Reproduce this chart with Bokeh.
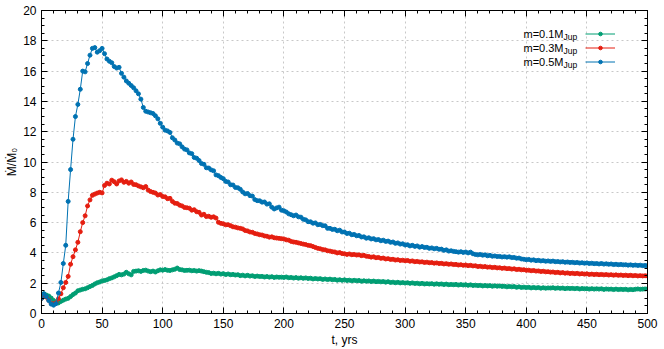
from bokeh.plotting import figure
from bokeh.models import (SingleIntervalTicker, LinearAxis, Label, Legend,
                          LegendItem, Range1d)
from bokeh.embed import file_html
from bokeh.resources import INLINE

# time axis (yrs), sampled every 2 years
t_years = list(range(0, 501, 2))

# Mdot / Mdot_0 for m = 0.1 M_Jup
mdot_01 = [
    1.00, 1.30, 1.22, 1.15, 1.02, 0.86, 0.72, 0.70, 0.80, 0.88,
    0.95, 1.00, 1.12, 1.25, 1.35, 1.50, 1.55, 1.60, 1.63, 1.70,
    1.78, 1.85, 1.95, 2.03, 2.08, 2.15, 2.18, 2.22, 2.30, 2.35,
    2.42, 2.50, 2.58, 2.55, 2.60, 2.72, 2.62, 2.55, 2.78, 2.80,
    2.82, 2.78, 2.84, 2.86, 2.80, 2.76, 2.80, 2.74, 2.82, 2.88,
    2.86, 2.90, 2.85, 2.84, 2.88, 2.92, 3.00, 2.90, 2.88, 2.84,
    2.85, 2.86, 2.82, 2.84, 2.80, 2.83, 2.80, 2.76, 2.72, 2.70,
    2.64, 2.66, 2.62, 2.65, 2.60, 2.63, 2.57, 2.61, 2.56, 2.58,
    2.54, 2.56, 2.50, 2.53, 2.48, 2.52, 2.47, 2.49, 2.44, 2.47,
    2.44, 2.45, 2.41, 2.44, 2.40, 2.43, 2.38, 2.41, 2.39, 2.40,
    2.38, 2.41, 2.36, 2.38, 2.34, 2.37, 2.33, 2.36, 2.32, 2.35,
    2.31, 2.33, 2.28, 2.31, 2.28, 2.30, 2.25, 2.28, 2.24, 2.27,
    2.23, 2.25, 2.20, 2.23, 2.19, 2.22, 2.18, 2.20, 2.16, 2.19,
    2.16, 2.18, 2.13, 2.16, 2.13, 2.15, 2.11, 2.14, 2.10, 2.12,
    2.09, 2.11, 2.07, 2.10, 2.05, 2.07, 2.03, 2.06, 2.02, 2.04,
    2.01, 2.03, 1.99, 2.02, 1.98, 2.00, 1.96, 1.99, 1.95, 1.97,
    1.95, 1.97, 1.93, 1.96, 1.93, 1.95, 1.91, 1.94, 1.90, 1.92,
    1.90, 1.92, 1.88, 1.91, 1.88, 1.90, 1.86, 1.89, 1.85, 1.87,
    1.84, 1.86, 1.82, 1.85, 1.82, 1.84, 1.80, 1.83, 1.80, 1.82,
    1.79, 1.80, 1.76, 1.79, 1.76, 1.78, 1.73, 1.76, 1.72, 1.74,
    1.71, 1.73, 1.69, 1.72, 1.69, 1.71, 1.67, 1.70, 1.67, 1.69,
    1.68, 1.70, 1.66, 1.69, 1.66, 1.68, 1.64, 1.67, 1.65, 1.66,
    1.64, 1.66, 1.62, 1.65, 1.63, 1.64, 1.61, 1.64, 1.61, 1.63,
    1.61, 1.63, 1.59, 1.62, 1.60, 1.61, 1.58, 1.61, 1.58, 1.60,
    1.58, 1.60, 1.56, 1.59, 1.57, 1.60, 1.62, 1.60, 1.61, 1.62,
    1.62,
]

# Mdot / Mdot_0 for m = 0.3 M_Jup
mdot_03 = [
    1.00, 1.20, 1.08, 0.88, 0.66, 0.63, 0.70, 0.97, 1.30, 1.70,
    2.05, 2.45, 3.25, 3.75, 4.20, 4.70, 5.40, 6.00, 6.45, 7.10,
    7.50, 7.80, 7.88, 7.95, 8.00, 7.96, 8.45, 8.60, 8.55, 8.80,
    8.70, 8.55, 8.75, 8.82, 8.66, 8.72, 8.60, 8.68, 8.52, 8.50,
    8.42, 8.36, 8.30, 8.38, 8.15, 8.05, 8.00, 7.95, 7.82, 7.85,
    7.72, 7.70, 7.58, 7.60, 7.40, 7.28, 7.26, 7.15, 7.10, 7.00,
    6.98, 6.95, 6.82, 6.85, 6.72, 6.68, 6.50, 6.55, 6.40, 6.42,
    6.35, 6.38, 6.30, 6.02, 5.95, 5.92, 5.85, 5.86, 5.80, 5.72,
    5.70, 5.65, 5.62, 5.58, 5.48, 5.45, 5.38, 5.36, 5.28, 5.25,
    5.20, 5.18, 5.12, 5.10, 5.04, 5.06, 5.00, 4.98, 4.96, 4.94,
    4.92, 4.86, 4.84, 4.76, 4.72, 4.70, 4.66, 4.62, 4.58, 4.55,
    4.50, 4.48, 4.42, 4.36, 4.30, 4.27, 4.22, 4.20, 4.14, 4.12,
    4.08, 4.06, 4.00, 4.02, 3.96, 3.94, 3.90, 3.93, 3.88, 3.90,
    3.86, 3.87, 3.82, 3.84, 3.78, 3.76, 3.72, 3.74, 3.68, 3.70,
    3.64, 3.66, 3.60, 3.62, 3.57, 3.58, 3.53, 3.55, 3.50, 3.52,
    3.48, 3.50, 3.45, 3.47, 3.42, 3.44, 3.40, 3.41, 3.37, 3.39,
    3.35, 3.36, 3.32, 3.34, 3.30, 3.31, 3.27, 3.29, 3.25, 3.27,
    3.23, 3.24, 3.20, 3.22, 3.18, 3.20, 3.16, 3.18, 3.14, 3.15,
    3.10, 3.12, 3.08, 3.10, 3.06, 3.07, 3.03, 3.05, 3.01, 3.02,
    2.98, 3.00, 2.96, 2.97, 2.93, 2.95, 2.90, 2.92, 2.88, 2.89,
    2.85, 2.86, 2.82, 2.84, 2.80, 2.81, 2.77, 2.79, 2.75, 2.76,
    2.73, 2.74, 2.70, 2.72, 2.68, 2.70, 2.66, 2.68, 2.64, 2.66,
    2.63, 2.65, 2.61, 2.63, 2.60, 2.62, 2.58, 2.60, 2.57, 2.59,
    2.56, 2.58, 2.55, 2.57, 2.54, 2.56, 2.53, 2.55, 2.52, 2.54,
    2.51, 2.53, 2.50, 2.52, 2.49, 2.51, 2.48, 2.50, 2.48, 2.49,
    2.48,
]

# Mdot / Mdot_0 for m = 0.5 M_Jup
mdot_05 = [
    1.00, 1.30, 1.12, 0.85, 0.62, 0.55, 0.65, 1.35, 2.05, 3.30,
    4.50, 7.40, 9.50, 11.50, 13.00, 13.80, 14.80, 16.00, 15.95, 16.50,
    17.05, 17.50, 17.55, 17.25, 17.35, 17.50, 17.15, 16.80, 16.65, 16.55,
    16.30, 16.20, 16.25, 15.85, 15.60, 15.35, 15.20, 15.05, 14.90, 14.70,
    14.50, 14.15, 13.60, 13.35, 13.30, 13.25, 13.20, 13.05, 12.85, 12.55,
    12.30, 12.10, 12.05, 11.95, 11.60, 11.45, 11.25, 11.20, 11.00, 10.85,
    10.80, 10.60, 10.55, 10.30, 10.25, 10.10, 9.90, 9.85, 9.62, 9.60,
    9.48, 9.42, 9.15, 9.10, 8.98, 8.90, 8.72, 8.68, 8.50, 8.48,
    8.32, 8.30, 8.20, 8.02, 7.90, 7.92, 7.78, 7.75, 7.52, 7.45,
    7.44, 7.35, 7.36, 7.22, 7.24, 7.02, 6.90, 6.97, 7.02, 6.82,
    6.78, 6.70, 6.58, 6.52, 6.45, 6.50, 6.38, 6.36, 6.22, 6.18,
    6.06, 6.05, 5.96, 5.98, 5.86, 5.88, 5.80, 5.79, 5.62, 5.62,
    5.55, 5.56, 5.46, 5.50, 5.38, 5.38, 5.28, 5.30, 5.20, 5.22,
    5.13, 5.15, 5.05, 5.06, 4.97, 5.00, 4.92, 4.94, 4.86, 4.88,
    4.80, 4.84, 4.76, 4.78, 4.70, 4.72, 4.63, 4.66, 4.58, 4.60,
    4.52, 4.54, 4.46, 4.50, 4.43, 4.46, 4.38, 4.42, 4.36, 4.37,
    4.30, 4.33, 4.27, 4.30, 4.24, 4.25, 4.17, 4.20, 4.12, 4.14,
    4.10, 4.08, 4.05, 4.08, 4.03, 4.06, 4.00, 4.05, 3.94, 3.90,
    3.87, 3.90, 3.85, 3.87, 3.81, 3.84, 3.78, 3.80, 3.76, 3.77,
    3.73, 3.75, 3.72, 3.74, 3.69, 3.70, 3.65, 3.66, 3.60, 3.58,
    3.55, 3.57, 3.52, 3.54, 3.49, 3.51, 3.47, 3.49, 3.45, 3.47,
    3.44, 3.46, 3.42, 3.43, 3.40, 3.42, 3.38, 3.40, 3.37, 3.38,
    3.35, 3.37, 3.33, 3.35, 3.32, 3.34, 3.30, 3.32, 3.29, 3.30,
    3.27, 3.30, 3.26, 3.28, 3.25, 3.27, 3.23, 3.25, 3.22, 3.24,
    3.21, 3.22, 3.19, 3.21, 3.18, 3.20, 3.17, 3.19, 3.16, 3.17,
    3.16,
]

series = [mdot_01, mdot_03, mdot_05]
series_labels = ["m=0.1M", "m=0.3M", "m=0.5M"]
label_subscript = "Jup"
colors = ["#009e73", "#e51e10", "#0072b2"]

x_tick_interval = 50
y_tick_interval = 2
FONT = "Liberation Sans"

p = figure(width=664, height=349,
           x_range=Range1d(0, 500), y_range=Range1d(0, 20),
           output_backend="svg", toolbar_location=None,
           min_border_left=41, min_border_right=17,
           min_border_top=10, min_border_bottom=36)
p.background_fill_color = "white"
p.border_fill_color = "white"
p.outline_line_color = "black"
p.outline_line_width = 1


def style_axis(ax, ticker, show_labels):
    ax.ticker = ticker
    ax.major_tick_in = 6
    ax.major_tick_out = 0
    ax.minor_tick_in = 3
    ax.minor_tick_out = 0
    ax.axis_line_color = "black"
    ax.major_tick_line_color = "black"
    ax.minor_tick_line_color = "black"
    ax.major_label_text_font = FONT
    if show_labels:
        ax.major_label_text_color = "black"
        ax.major_label_text_font_size = "12px"
        ax.major_label_standoff = 5
        ax.axis_label_text_font = FONT
        ax.axis_label_text_font_size = "12px"
        ax.axis_label_text_font_style = "normal"
        ax.axis_label_text_color = "black"
    else:
        ax.major_label_text_color = None
        ax.major_label_text_alpha = 0
        ax.major_label_text_font_size = "1px"
        ax.major_label_standoff = 0


xt = SingleIntervalTicker(interval=x_tick_interval, num_minor_ticks=5)
yt = SingleIntervalTicker(interval=y_tick_interval, num_minor_ticks=4)
style_axis(p.xaxis[0], xt, True)
style_axis(p.yaxis[0], yt, True)
p.xaxis[0].axis_label = "t, yrs"
p.xaxis[0].axis_label_standoff = 2
p.yaxis[0].axis_label = "Ṁ/Ṁ₀"
p.yaxis[0].axis_label_standoff = 1

top_ax = LinearAxis()
right_ax = LinearAxis()
style_axis(top_ax, SingleIntervalTicker(interval=x_tick_interval, num_minor_ticks=5), False)
style_axis(right_ax, SingleIntervalTicker(interval=y_tick_interval, num_minor_ticks=4), False)
p.add_layout(top_ax, "above")
p.add_layout(right_ax, "right")

p.xgrid.ticker = xt
p.ygrid.ticker = yt
for g in (p.xgrid, p.ygrid):
    g.grid_line_color = "#c8c8c8"
    g.grid_line_dash = "2 3"
    g.grid_line_width = 1

items = []
for ys, c in zip(series, colors):
    lr = p.line(t_years, ys, line_color=c, line_width=1)
    sr = p.scatter(t_years, ys, marker="circle", size=4,
                   fill_color=c, line_color=c)
    items.append(LegendItem(label=" ", renderers=[lr, sr]))

legend = Legend(items=items, location=(544, 247), glyph_width=30,
                glyph_height=9, label_height=9, spacing=5, padding=0,
                margin=0, label_standoff=0, label_width=0,
                label_text_font_size="1px", background_fill_alpha=0,
                border_line_alpha=0)
p.add_layout(legend)

legend_rows = [18.46, 17.54, 16.62]
for lab, ry in zip(series_labels, legend_rows):
    p.add_layout(Label(x=430.7, y=ry, text=lab, text_align="right",
                       text_baseline="middle", text_font=FONT,
                       text_font_size="11px", text_color="black"))
    p.add_layout(Label(x=430.7, y=ry, y_offset=-3, text=label_subscript,
                       text_align="left", text_baseline="middle",
                       text_font=FONT, text_font_size="8.5px",
                       text_color="black"))

open("out.html", "w").write(file_html(p, INLINE))
